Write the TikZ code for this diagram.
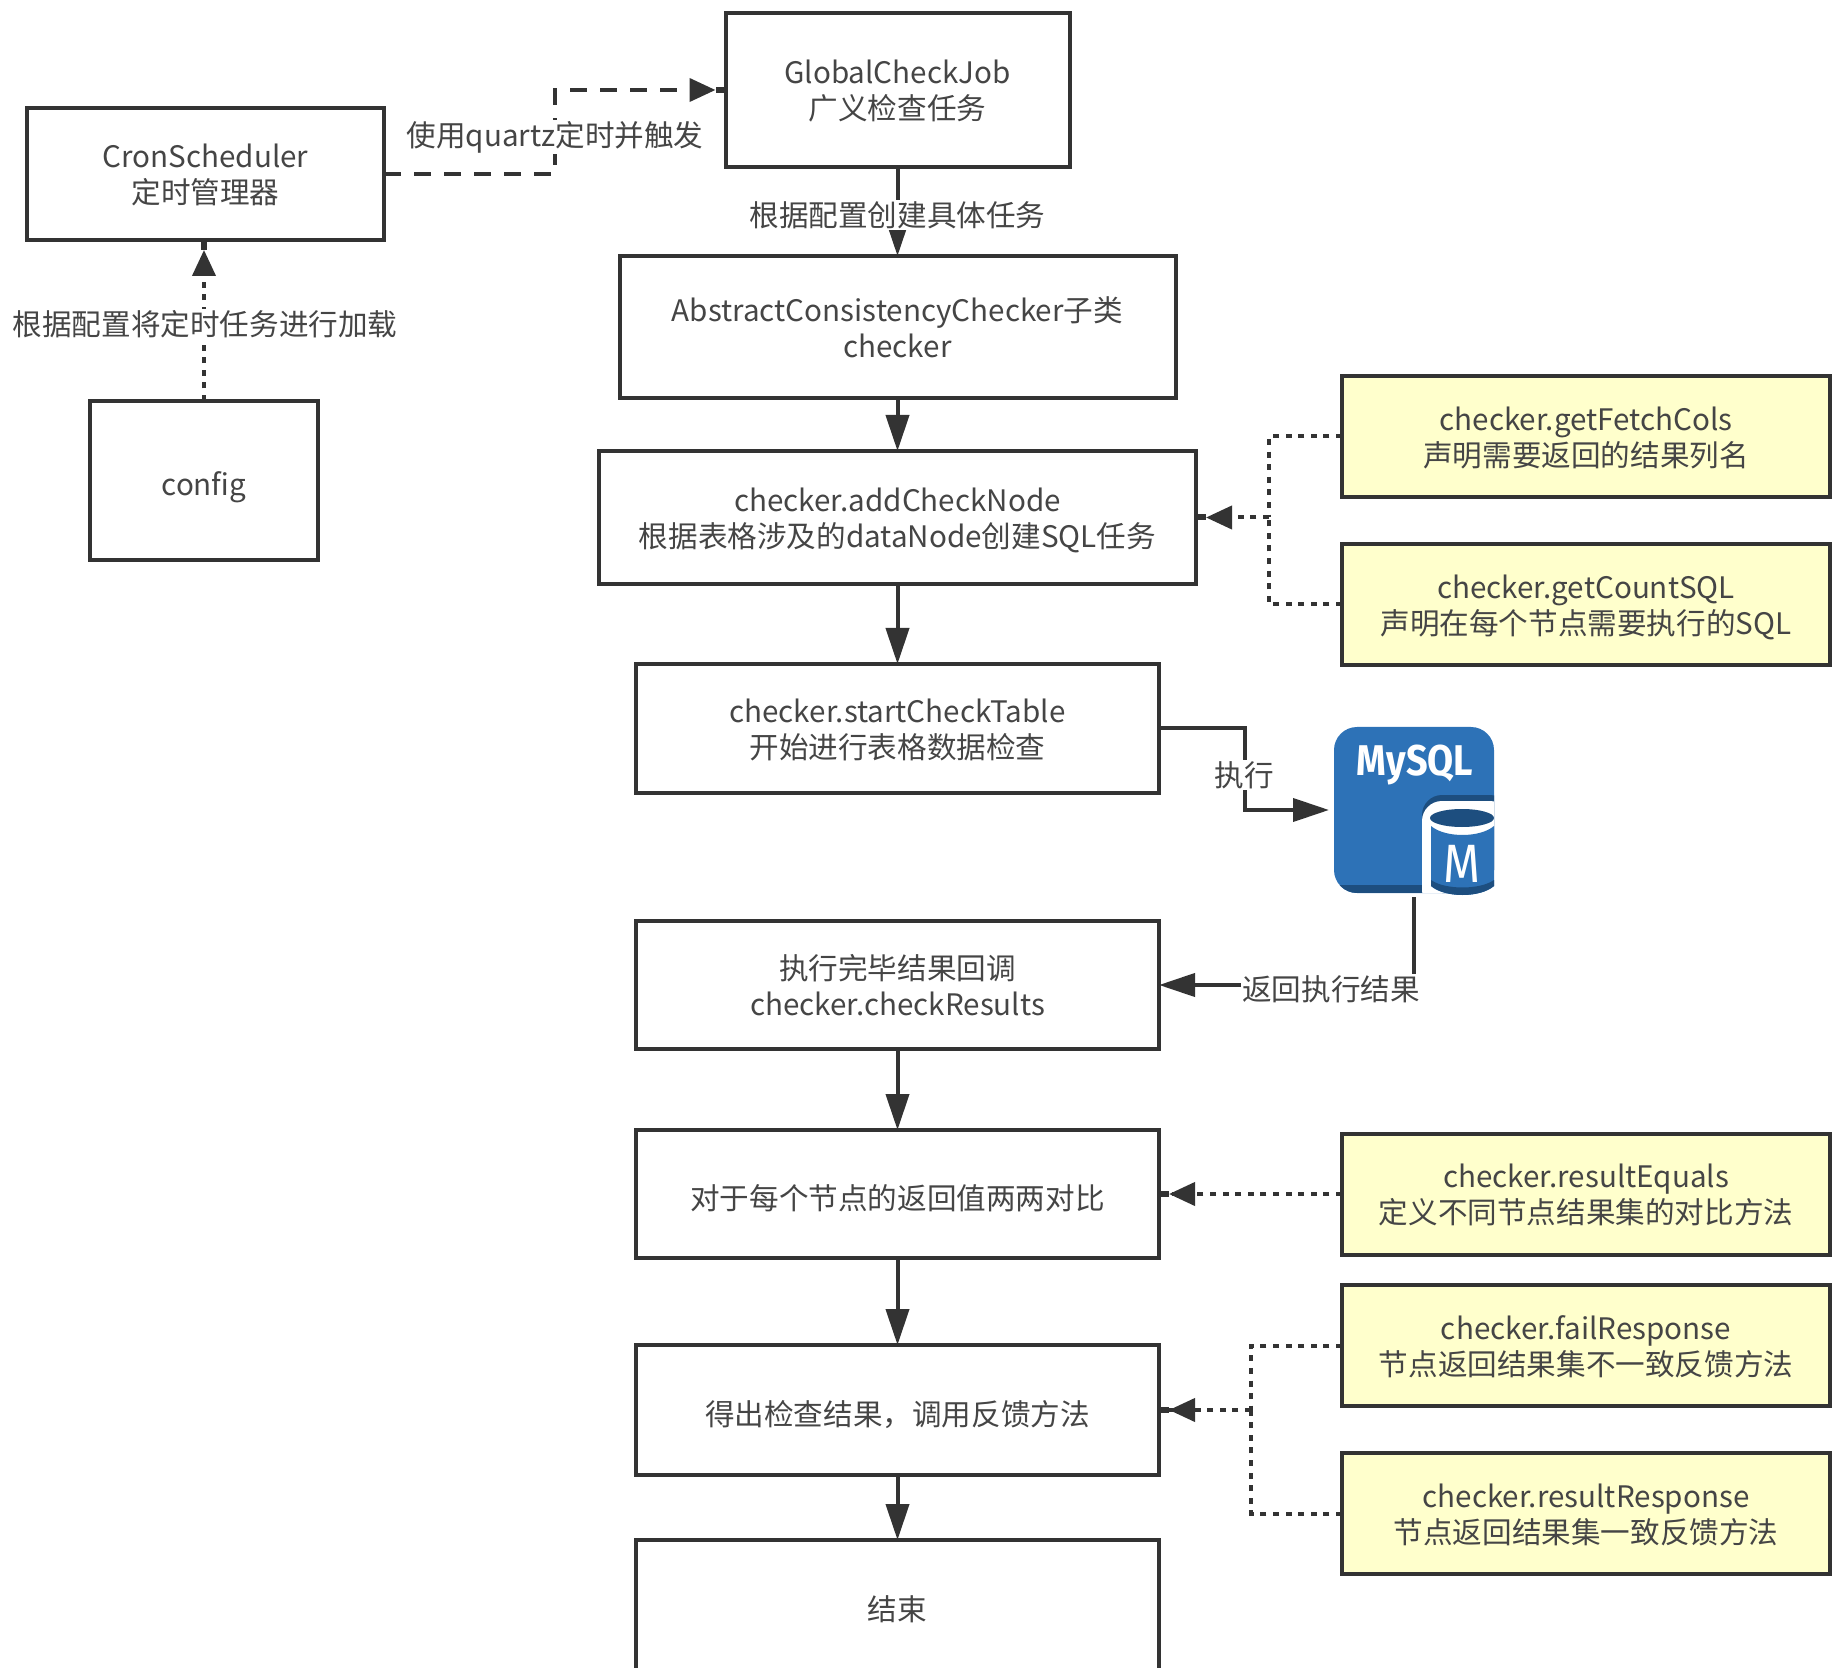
\documentclass[tikz,border=0pt]{standalone}
\usepackage{fontspec}
\setmainfont{Noto Sans CJK SC}
\newfontfamily\iconfont[FakeStretch=.88]{Fira Sans}
\usetikzlibrary{calc, arrows.meta}

\definecolor{inkgray}{HTML}{333333}
\definecolor{textgray}{HTML}{454545}
\definecolor{noteyellow}{HTML}{FFFFCC}
\definecolor{mysqlblue}{HTML}{2D72B7}
\definecolor{mysqldark}{HTML}{1D4E7F}

\tikzset{
	box/.style = {draw = inkgray, line width = 2pt, outer sep = 0pt, inner sep = 0pt, align = center, text = textgray, text depth = 0pt, font = \fontsize{14.8}{18.2}\selectfont},
	oneline/.style = {box, execute at begin node = {\rule{0pt}{15.4pt}}},
	twoline/.style = {box, execute at begin node = {\rule{0pt}{20pt}}},
	boxsize/.style 2 args = {minimum width = #1 * .5pt, minimum height = #2 * .5pt},
	notebox/.style = {twoline, fill = noteyellow, boxsize = {488}{121}},
	flow/.style = {draw = inkgray, line width = 2pt, -{Triangle[length = 18pt, width = 11.5pt]}},
	plainline/.style = {draw = inkgray, line width = 2pt},
	brokenflow/.style = {plainline, -{Triangle[length = 13pt, width = 11.5pt] Rectangle[length = 5pt, width = 3pt]}},
	dashflow/.style = {brokenflow, dash pattern = on 8.5pt off 6.5pt},
	dotline/.style = {plainline, dash pattern = on 3pt off 3.3pt},
	dotflow/.style = {brokenflow, dash pattern = on 3pt off 3.3pt},
	linklabel/.style = {fill = white, inner sep = .5pt, text = textgray, font = \fontsize{14.8}{18.2}\selectfont}
}

\begin{document}
\begin{tikzpicture}[x = .5pt, y = -.5pt]
	\useasboundingbox (0, 0) rectangle (1832, 1668);
	\node [twoline, boxsize = {357}{132}] (cron) at (205.5, 174) {CronScheduler\\定时管理器};
	\node [oneline, boxsize = {228}{159}] (config) at (204, 480.5) {config};
	\node [twoline, boxsize = {344}{154}] (global) at (897.5, 90) {GlobalCheckJob\\广义检查任务};
	\node [twoline, boxsize = {556}{142}] (abstract) at (897.5, 327) {AbstractConsistencyChecker子类\\checker};
	\node [twoline, boxsize = {597}{133}] (addcheck) at (897.5, 517.5) {checker.addCheckNode\\根据表格涉及的dataNode创建SQL任务};
	\node [twoline, boxsize = {523}{129}] (startcheck) at (897.5, 728.5) {checker.startCheckTable\\开始进行表格数据检查};
	\node [twoline, boxsize = {523}{128}] (callback) at (897.5, 985) {执行完毕结果回调\\checker.checkResults};
	\node [oneline, boxsize = {523}{128}] (compare) at (897.5, 1194) {对于每个节点的返回值两两对比};
	\node [oneline, boxsize = {523}{130}] (feedback) at (897.5, 1410) {得出检查结果，调用反馈方法};
	\node [oneline, boxsize = {523}{138}, text depth = 3.9pt] (finish) at (897.5, 1609) {结束};
	\node [notebox] (fetchcols) at (1586, 436.5) {checker.getFetchCols\\声明需要返回的结果列名};
	\node [notebox] (countsql) at (1586, 604.5) {checker.getCountSQL\\声明在每个节点需要执行的SQL};
	\node [notebox] (equals) at (1586, 1194) {checker.resultEquals\\定义不同节点结果集的对比方法};
	\node [notebox] (failresp) at (1586, 1345.5) {checker.failResponse\\节点返回结果集不一致反馈方法};
	\node [notebox] (resultresp) at (1586, 1513.5) {checker.resultResponse\\节点返回结果集一致反馈方法};
	\node [fill = mysqlblue, rounded corners = 11.5pt, boxsize = {160}{166}, outer sep = 0pt, inner sep = 0pt] (mysql) at (1414, 810) {};
	\begin{scope}
		\clip [rounded corners = 11.5pt] (1334, 727) rectangle (1494, 893);
		\fill [mysqldark] (1334, 885) rectangle (1424, 893);
		\fill [mysqldark, rounded corners = 10pt] (1422, 795) rectangle (1510, 893);
		\fill [white, rounded corners = 10pt] (1422, 801) rectangle (1510, 910);
	\end{scope}
	\fill [mysqlblue] (1431, 826) .. controls (1445, 838) and (1480, 838) .. (1494, 826) -- (1494, 886) .. controls (1480, 898) and (1445, 898) .. (1431, 886) -- cycle;
	\fill [mysqldark] (1431, 886) .. controls (1445, 898) and (1480, 898) .. (1494, 886) -- (1494, 880) .. controls (1480, 890) and (1445, 890) .. (1431, 880) -- cycle;
	\fill [mysqldark] (1462, 818) ellipse (32 and 9);
	\node [text = white, inner sep = 0pt, font = \iconfont\bfseries\fontsize{21.5}{24}\selectfont] (mysqlname) at (1415, 765) {MySQL};
	\node [text = white, inner sep = 0pt, font = \iconfont\fontsize{27}{30}\selectfont] (mysqlm) at (1462, 864) {M};
	\draw [dashflow] (cron.east) -- (555, 174) |- (global.west);
	\draw [dotflow] (config.north) -- (config.north |- cron.south);
	\draw [flow] (global) -- (abstract);
	\draw [flow] (abstract) -- (addcheck);
	\draw [flow] (addcheck) -- (startcheck);
	\draw [flow] (callback) -- (compare);
	\draw [flow] (compare) -- (feedback);
	\draw [flow] (feedback) -- (finish);
	\draw [flow] (startcheck.east) -- (1245, 728.5) |- ([xshift = -2.5pt]mysql.west);
	\draw [flow] ([yshift = -2pt]mysql.south) |- (callback.east);
	\coordinate (fetchjoin) at (1269, 517.5);
	\draw [dotline] (fetchcols.west) -| (fetchjoin);
	\draw [dotline] (countsql.west) -| (fetchjoin);
	\draw [dotflow] (fetchjoin) -- (addcheck.east);
	\draw [dotflow] (equals.west) -- (compare.east);
	\coordinate (respjoin) at (1251, 1410);
	\draw [dotline] (failresp.west) -| (respjoin);
	\draw [dotline] (resultresp.west) -| (respjoin);
	\draw [dotflow] (respjoin) -- (feedback.east);
	\node [linklabel] (firelabel) at (555, 137) {使用quartz定时并触发};
	\node [linklabel] (loadlabel) at (205, 324) {根据配置将定时任务进行加载};
	\node [linklabel] (createlabel) at (897.5, 215) {根据配置创建具体任务};
	\node [linklabel] (runlabel) at (1244, 775) {执行};
	\node [linklabel] (returnlabel) at (1331, 989) {返回执行结果};
\end{tikzpicture}
\end{document}
